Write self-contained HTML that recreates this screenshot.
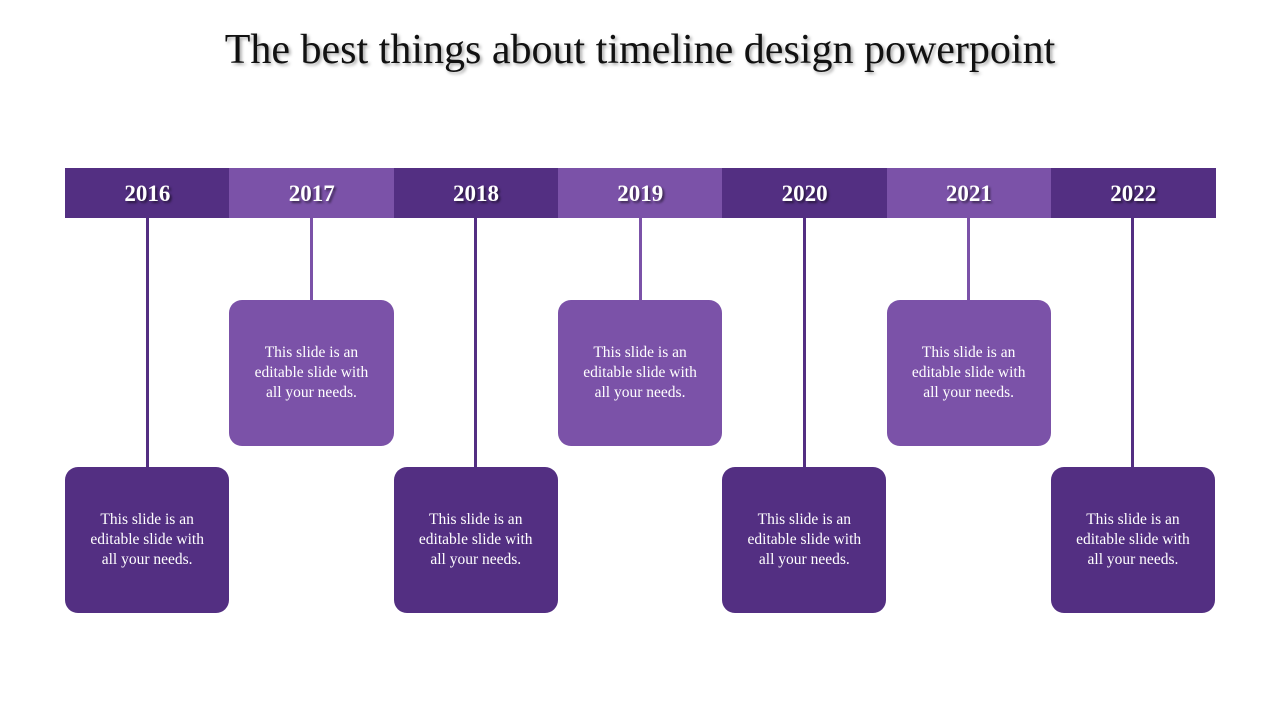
<!DOCTYPE html>
<html><head><meta charset="utf-8"><style>
body{margin:0;width:1280px;height:720px;background:#fff;position:relative;overflow:hidden;font-family:"Liberation Serif",serif}
.t{position:absolute;left:0;width:1280px;top:26px;text-align:center;font-size:42px;color:#111;text-shadow:2px 2px 3px rgba(0,0,0,.35)}
.y{position:absolute;top:168px;height:50px;line-height:52px;text-align:center;color:#fff;font-weight:bold;font-size:23px;text-shadow:2px 2px 2px rgba(0,0,0,.5)}
.l{position:absolute;width:3px;top:218px}
.b{position:absolute;height:146px;border-radius:13px;color:#fff;font-size:15.5px;line-height:20px;text-align:center;display:flex;align-items:center;justify-content:center;box-sizing:border-box;padding:0 18px}
</style></head><body>
<div class="t">The best things about timeline design powerpoint</div>
<div id="c"></div>
<script>
const years=['2016','2017','2018','2019','2020','2021','2022'];
const c=document.getElementById('c');
const x0=65,w=164.3;
years.forEach((yr,i)=>{
  const dark=i%2===0,col=dark?'#532f82':'#7b52a8',x=x0+i*w;
  const y=document.createElement('div');y.className='y';
  
  
  y.style.left=x+'px';y.style.width=(w+0.5)+'px';y.style.background=col;y.textContent=yr;c.appendChild(y);
  const top=dark?467:300;
  const l=document.createElement('div');l.className='l';
  
  
  l.style.left=(x+w/2-1.5)+'px';l.style.height=(top-218)+'px';l.style.background=col;c.appendChild(l);
  const b=document.createElement('div');b.className='b';
  
  
  b.style.left=x+'px';b.style.width=w+'px';b.style.top=top+'px';b.style.background=col;
  b.textContent='This slide is an editable slide with all your needs.';c.appendChild(b);
});
</script>
</body></html>
